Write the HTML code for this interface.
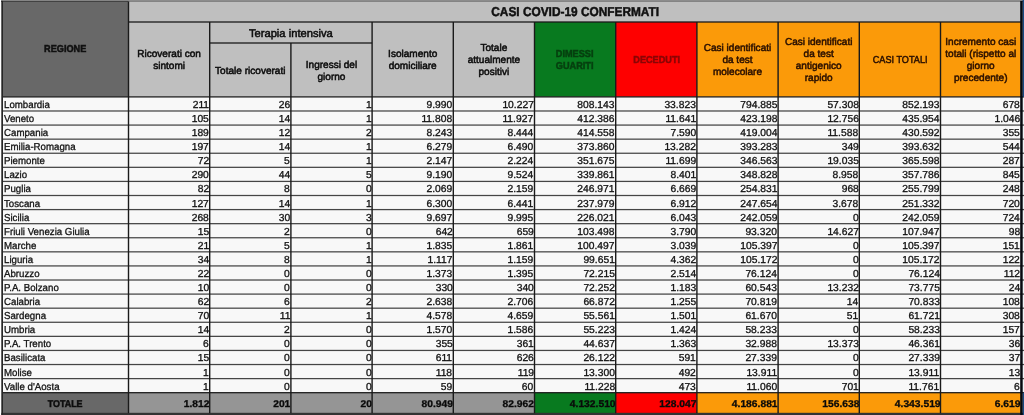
<!DOCTYPE html>
<html><head><meta charset="utf-8"><title>Casi COVID-19</title>
<style>
html,body{margin:0;padding:0;background:#fff;}
body{width:1024px;height:415px;position:relative;overflow:hidden;font-family:"Liberation Sans",sans-serif;color:#0c0c0c;text-rendering:geometricPrecision;}
#top{position:absolute;left:1px;top:-10px;width:1043px;height:11.5px;background:#8e8e8e;}
#lw{position:absolute;left:-10px;top:-10px;width:11.4px;height:440px;background:#fff;}
#rw{position:absolute;left:1022px;top:96px;width:20px;height:298px;background:#f0f4f8;}
#wrap{position:absolute;left:0;top:0;width:1044px;height:435px;filter:blur(0.5px);}
#bg{position:absolute;left:0;top:0;}
#txt{position:absolute;left:0;top:0;width:1044px;height:435px;will-change:transform;}
.c{position:absolute;box-sizing:border-box;display:flex;overflow:hidden;white-space:nowrap;}
#lines{position:absolute;left:0;top:0;}
.h{align-items:center;justify-content:center;text-align:center;font-size:10.05px;line-height:12px;-webkit-text-stroke:0.5px currentColor;}
.h span{position:relative;display:inline-block;transform:translateY(1.9px);}
.h .u{transform:translateY(2.0px) scaleX(0.91);}
.h .rg{transform:translateY(0.8px) scaleX(0.91);color:#101010;}
.h .ut{transform:translateY(-0.3px) scaleX(0.92);}
.b{font-weight:bold;}
.t{font-size:12.9px;color:#111;}
.ti{font-size:11.2px;}
.h.ti span{transform:translateY(0.5px);}
.d{align-items:center;font-size:10.1px;line-height:12px;color:#111;-webkit-text-stroke:0.3px currentColor;}
.n{justify-content:flex-start;padding-left:2px;}
.n span{transform:translateY(1.5px) scaleX(0.96);transform-origin:left center;display:inline-block;}
.v{justify-content:flex-end;padding-right:0.9px;}
.v span{transform:translateY(1.5px) scaleX(1.02);transform-origin:right center;display:inline-block;}
.tot{font-size:9.8px;}
.v.tot{font-size:9.8px;color:#0a0a0a;-webkit-text-stroke:0.3px currentColor;padding-right:0.3px;}
.v.tot span{transform:translateY(1.8px) scaleX(1.05);transform-origin:right center;display:inline-block;}
.gt{color:#063f0f;}
.or{color:#2a1000;}
.rt{color:#8a0505;}
.d span{position:relative;}
</style></head><body>
<div id="wrap">
<div id="top"></div><div id="lw"></div><div id="rw"></div>
<svg id="bg" width="1044" height="435" viewBox="0 0 1044 435">
<rect x="2.00" y="1.50" width="126.50" height="95.40" fill="#686868"/>
<rect x="128.50" y="1.50" width="892.50" height="20.50" fill="#bfbfbf"/>
<rect x="128.50" y="22.00" width="81.20" height="74.90" fill="#bfbfbf"/>
<rect x="209.70" y="22.00" width="162.40" height="21.00" fill="#bfbfbf"/>
<rect x="209.70" y="43.00" width="81.20" height="53.90" fill="#bfbfbf"/>
<rect x="290.90" y="43.00" width="81.20" height="53.90" fill="#bfbfbf"/>
<rect x="372.10" y="22.00" width="81.20" height="74.90" fill="#bfbfbf"/>
<rect x="453.30" y="22.00" width="81.20" height="74.90" fill="#bfbfbf"/>
<rect x="534.50" y="22.00" width="81.20" height="74.90" fill="#087a1f"/>
<rect x="615.70" y="22.00" width="81.20" height="74.90" fill="#fe0000"/>
<rect x="696.90" y="22.00" width="81.20" height="74.90" fill="#fb9a09"/>
<rect x="778.10" y="22.00" width="81.20" height="74.90" fill="#fb9a09"/>
<rect x="859.30" y="22.00" width="81.20" height="74.90" fill="#fb9a09"/>
<rect x="940.50" y="22.00" width="80.50" height="74.90" fill="#fb9a09"/>
<rect x="2.00" y="96.90" width="126.50" height="14.09" fill="#f8f8f8"/>
<rect x="128.50" y="96.90" width="81.20" height="14.09" fill="#f8f8f8"/>
<rect x="209.70" y="96.90" width="81.20" height="14.09" fill="#f8f8f8"/>
<rect x="290.90" y="96.90" width="81.20" height="14.09" fill="#f8f8f8"/>
<rect x="372.10" y="96.90" width="81.20" height="14.09" fill="#f8f8f8"/>
<rect x="453.30" y="96.90" width="81.20" height="14.09" fill="#f8f8f8"/>
<rect x="534.50" y="96.90" width="81.20" height="14.09" fill="#f8f8f8"/>
<rect x="615.70" y="96.90" width="81.20" height="14.09" fill="#f8f8f8"/>
<rect x="696.90" y="96.90" width="81.20" height="14.09" fill="#f8f8f8"/>
<rect x="778.10" y="96.90" width="81.20" height="14.09" fill="#f8f8f8"/>
<rect x="859.30" y="96.90" width="81.20" height="14.09" fill="#f8f8f8"/>
<rect x="940.50" y="96.90" width="80.50" height="14.09" fill="#f8f8f8"/>
<rect x="2.00" y="110.99" width="126.50" height="14.09" fill="#f8f8f8"/>
<rect x="128.50" y="110.99" width="81.20" height="14.09" fill="#f8f8f8"/>
<rect x="209.70" y="110.99" width="81.20" height="14.09" fill="#f8f8f8"/>
<rect x="290.90" y="110.99" width="81.20" height="14.09" fill="#f8f8f8"/>
<rect x="372.10" y="110.99" width="81.20" height="14.09" fill="#f8f8f8"/>
<rect x="453.30" y="110.99" width="81.20" height="14.09" fill="#f8f8f8"/>
<rect x="534.50" y="110.99" width="81.20" height="14.09" fill="#f8f8f8"/>
<rect x="615.70" y="110.99" width="81.20" height="14.09" fill="#f8f8f8"/>
<rect x="696.90" y="110.99" width="81.20" height="14.09" fill="#f8f8f8"/>
<rect x="778.10" y="110.99" width="81.20" height="14.09" fill="#f8f8f8"/>
<rect x="859.30" y="110.99" width="81.20" height="14.09" fill="#f8f8f8"/>
<rect x="940.50" y="110.99" width="80.50" height="14.09" fill="#f8f8f8"/>
<rect x="2.00" y="125.07" width="126.50" height="14.09" fill="#f8f8f8"/>
<rect x="128.50" y="125.07" width="81.20" height="14.09" fill="#f8f8f8"/>
<rect x="209.70" y="125.07" width="81.20" height="14.09" fill="#f8f8f8"/>
<rect x="290.90" y="125.07" width="81.20" height="14.09" fill="#f8f8f8"/>
<rect x="372.10" y="125.07" width="81.20" height="14.09" fill="#f8f8f8"/>
<rect x="453.30" y="125.07" width="81.20" height="14.09" fill="#f8f8f8"/>
<rect x="534.50" y="125.07" width="81.20" height="14.09" fill="#f8f8f8"/>
<rect x="615.70" y="125.07" width="81.20" height="14.09" fill="#f8f8f8"/>
<rect x="696.90" y="125.07" width="81.20" height="14.09" fill="#f8f8f8"/>
<rect x="778.10" y="125.07" width="81.20" height="14.09" fill="#f8f8f8"/>
<rect x="859.30" y="125.07" width="81.20" height="14.09" fill="#f8f8f8"/>
<rect x="940.50" y="125.07" width="80.50" height="14.09" fill="#f8f8f8"/>
<rect x="2.00" y="139.16" width="126.50" height="14.09" fill="#f8f8f8"/>
<rect x="128.50" y="139.16" width="81.20" height="14.09" fill="#f8f8f8"/>
<rect x="209.70" y="139.16" width="81.20" height="14.09" fill="#f8f8f8"/>
<rect x="290.90" y="139.16" width="81.20" height="14.09" fill="#f8f8f8"/>
<rect x="372.10" y="139.16" width="81.20" height="14.09" fill="#f8f8f8"/>
<rect x="453.30" y="139.16" width="81.20" height="14.09" fill="#f8f8f8"/>
<rect x="534.50" y="139.16" width="81.20" height="14.09" fill="#f8f8f8"/>
<rect x="615.70" y="139.16" width="81.20" height="14.09" fill="#f8f8f8"/>
<rect x="696.90" y="139.16" width="81.20" height="14.09" fill="#f8f8f8"/>
<rect x="778.10" y="139.16" width="81.20" height="14.09" fill="#f8f8f8"/>
<rect x="859.30" y="139.16" width="81.20" height="14.09" fill="#f8f8f8"/>
<rect x="940.50" y="139.16" width="80.50" height="14.09" fill="#f8f8f8"/>
<rect x="2.00" y="153.24" width="126.50" height="14.09" fill="#f8f8f8"/>
<rect x="128.50" y="153.24" width="81.20" height="14.09" fill="#f8f8f8"/>
<rect x="209.70" y="153.24" width="81.20" height="14.09" fill="#f8f8f8"/>
<rect x="290.90" y="153.24" width="81.20" height="14.09" fill="#f8f8f8"/>
<rect x="372.10" y="153.24" width="81.20" height="14.09" fill="#f8f8f8"/>
<rect x="453.30" y="153.24" width="81.20" height="14.09" fill="#f8f8f8"/>
<rect x="534.50" y="153.24" width="81.20" height="14.09" fill="#f8f8f8"/>
<rect x="615.70" y="153.24" width="81.20" height="14.09" fill="#f8f8f8"/>
<rect x="696.90" y="153.24" width="81.20" height="14.09" fill="#f8f8f8"/>
<rect x="778.10" y="153.24" width="81.20" height="14.09" fill="#f8f8f8"/>
<rect x="859.30" y="153.24" width="81.20" height="14.09" fill="#f8f8f8"/>
<rect x="940.50" y="153.24" width="80.50" height="14.09" fill="#f8f8f8"/>
<rect x="2.00" y="167.33" width="126.50" height="14.09" fill="#f8f8f8"/>
<rect x="128.50" y="167.33" width="81.20" height="14.09" fill="#f8f8f8"/>
<rect x="209.70" y="167.33" width="81.20" height="14.09" fill="#f8f8f8"/>
<rect x="290.90" y="167.33" width="81.20" height="14.09" fill="#f8f8f8"/>
<rect x="372.10" y="167.33" width="81.20" height="14.09" fill="#f8f8f8"/>
<rect x="453.30" y="167.33" width="81.20" height="14.09" fill="#f8f8f8"/>
<rect x="534.50" y="167.33" width="81.20" height="14.09" fill="#f8f8f8"/>
<rect x="615.70" y="167.33" width="81.20" height="14.09" fill="#f8f8f8"/>
<rect x="696.90" y="167.33" width="81.20" height="14.09" fill="#f8f8f8"/>
<rect x="778.10" y="167.33" width="81.20" height="14.09" fill="#f8f8f8"/>
<rect x="859.30" y="167.33" width="81.20" height="14.09" fill="#f8f8f8"/>
<rect x="940.50" y="167.33" width="80.50" height="14.09" fill="#f8f8f8"/>
<rect x="2.00" y="181.41" width="126.50" height="14.09" fill="#f8f8f8"/>
<rect x="128.50" y="181.41" width="81.20" height="14.09" fill="#f8f8f8"/>
<rect x="209.70" y="181.41" width="81.20" height="14.09" fill="#f8f8f8"/>
<rect x="290.90" y="181.41" width="81.20" height="14.09" fill="#f8f8f8"/>
<rect x="372.10" y="181.41" width="81.20" height="14.09" fill="#f8f8f8"/>
<rect x="453.30" y="181.41" width="81.20" height="14.09" fill="#f8f8f8"/>
<rect x="534.50" y="181.41" width="81.20" height="14.09" fill="#f8f8f8"/>
<rect x="615.70" y="181.41" width="81.20" height="14.09" fill="#f8f8f8"/>
<rect x="696.90" y="181.41" width="81.20" height="14.09" fill="#f8f8f8"/>
<rect x="778.10" y="181.41" width="81.20" height="14.09" fill="#f8f8f8"/>
<rect x="859.30" y="181.41" width="81.20" height="14.09" fill="#f8f8f8"/>
<rect x="940.50" y="181.41" width="80.50" height="14.09" fill="#f8f8f8"/>
<rect x="2.00" y="195.50" width="126.50" height="14.09" fill="#f8f8f8"/>
<rect x="128.50" y="195.50" width="81.20" height="14.09" fill="#f8f8f8"/>
<rect x="209.70" y="195.50" width="81.20" height="14.09" fill="#f8f8f8"/>
<rect x="290.90" y="195.50" width="81.20" height="14.09" fill="#f8f8f8"/>
<rect x="372.10" y="195.50" width="81.20" height="14.09" fill="#f8f8f8"/>
<rect x="453.30" y="195.50" width="81.20" height="14.09" fill="#f8f8f8"/>
<rect x="534.50" y="195.50" width="81.20" height="14.09" fill="#f8f8f8"/>
<rect x="615.70" y="195.50" width="81.20" height="14.09" fill="#f8f8f8"/>
<rect x="696.90" y="195.50" width="81.20" height="14.09" fill="#f8f8f8"/>
<rect x="778.10" y="195.50" width="81.20" height="14.09" fill="#f8f8f8"/>
<rect x="859.30" y="195.50" width="81.20" height="14.09" fill="#f8f8f8"/>
<rect x="940.50" y="195.50" width="80.50" height="14.09" fill="#f8f8f8"/>
<rect x="2.00" y="209.59" width="126.50" height="14.09" fill="#f8f8f8"/>
<rect x="128.50" y="209.59" width="81.20" height="14.09" fill="#f8f8f8"/>
<rect x="209.70" y="209.59" width="81.20" height="14.09" fill="#f8f8f8"/>
<rect x="290.90" y="209.59" width="81.20" height="14.09" fill="#f8f8f8"/>
<rect x="372.10" y="209.59" width="81.20" height="14.09" fill="#f8f8f8"/>
<rect x="453.30" y="209.59" width="81.20" height="14.09" fill="#f8f8f8"/>
<rect x="534.50" y="209.59" width="81.20" height="14.09" fill="#f8f8f8"/>
<rect x="615.70" y="209.59" width="81.20" height="14.09" fill="#f8f8f8"/>
<rect x="696.90" y="209.59" width="81.20" height="14.09" fill="#f8f8f8"/>
<rect x="778.10" y="209.59" width="81.20" height="14.09" fill="#f8f8f8"/>
<rect x="859.30" y="209.59" width="81.20" height="14.09" fill="#f8f8f8"/>
<rect x="940.50" y="209.59" width="80.50" height="14.09" fill="#f8f8f8"/>
<rect x="2.00" y="223.67" width="126.50" height="14.09" fill="#f8f8f8"/>
<rect x="128.50" y="223.67" width="81.20" height="14.09" fill="#f8f8f8"/>
<rect x="209.70" y="223.67" width="81.20" height="14.09" fill="#f8f8f8"/>
<rect x="290.90" y="223.67" width="81.20" height="14.09" fill="#f8f8f8"/>
<rect x="372.10" y="223.67" width="81.20" height="14.09" fill="#f8f8f8"/>
<rect x="453.30" y="223.67" width="81.20" height="14.09" fill="#f8f8f8"/>
<rect x="534.50" y="223.67" width="81.20" height="14.09" fill="#f8f8f8"/>
<rect x="615.70" y="223.67" width="81.20" height="14.09" fill="#f8f8f8"/>
<rect x="696.90" y="223.67" width="81.20" height="14.09" fill="#f8f8f8"/>
<rect x="778.10" y="223.67" width="81.20" height="14.09" fill="#f8f8f8"/>
<rect x="859.30" y="223.67" width="81.20" height="14.09" fill="#f8f8f8"/>
<rect x="940.50" y="223.67" width="80.50" height="14.09" fill="#f8f8f8"/>
<rect x="2.00" y="237.76" width="126.50" height="14.09" fill="#f8f8f8"/>
<rect x="128.50" y="237.76" width="81.20" height="14.09" fill="#f8f8f8"/>
<rect x="209.70" y="237.76" width="81.20" height="14.09" fill="#f8f8f8"/>
<rect x="290.90" y="237.76" width="81.20" height="14.09" fill="#f8f8f8"/>
<rect x="372.10" y="237.76" width="81.20" height="14.09" fill="#f8f8f8"/>
<rect x="453.30" y="237.76" width="81.20" height="14.09" fill="#f8f8f8"/>
<rect x="534.50" y="237.76" width="81.20" height="14.09" fill="#f8f8f8"/>
<rect x="615.70" y="237.76" width="81.20" height="14.09" fill="#f8f8f8"/>
<rect x="696.90" y="237.76" width="81.20" height="14.09" fill="#f8f8f8"/>
<rect x="778.10" y="237.76" width="81.20" height="14.09" fill="#f8f8f8"/>
<rect x="859.30" y="237.76" width="81.20" height="14.09" fill="#f8f8f8"/>
<rect x="940.50" y="237.76" width="80.50" height="14.09" fill="#f8f8f8"/>
<rect x="2.00" y="251.84" width="126.50" height="14.09" fill="#f8f8f8"/>
<rect x="128.50" y="251.84" width="81.20" height="14.09" fill="#f8f8f8"/>
<rect x="209.70" y="251.84" width="81.20" height="14.09" fill="#f8f8f8"/>
<rect x="290.90" y="251.84" width="81.20" height="14.09" fill="#f8f8f8"/>
<rect x="372.10" y="251.84" width="81.20" height="14.09" fill="#f8f8f8"/>
<rect x="453.30" y="251.84" width="81.20" height="14.09" fill="#f8f8f8"/>
<rect x="534.50" y="251.84" width="81.20" height="14.09" fill="#f8f8f8"/>
<rect x="615.70" y="251.84" width="81.20" height="14.09" fill="#f8f8f8"/>
<rect x="696.90" y="251.84" width="81.20" height="14.09" fill="#f8f8f8"/>
<rect x="778.10" y="251.84" width="81.20" height="14.09" fill="#f8f8f8"/>
<rect x="859.30" y="251.84" width="81.20" height="14.09" fill="#f8f8f8"/>
<rect x="940.50" y="251.84" width="80.50" height="14.09" fill="#f8f8f8"/>
<rect x="2.00" y="265.93" width="126.50" height="14.09" fill="#f8f8f8"/>
<rect x="128.50" y="265.93" width="81.20" height="14.09" fill="#f8f8f8"/>
<rect x="209.70" y="265.93" width="81.20" height="14.09" fill="#f8f8f8"/>
<rect x="290.90" y="265.93" width="81.20" height="14.09" fill="#f8f8f8"/>
<rect x="372.10" y="265.93" width="81.20" height="14.09" fill="#f8f8f8"/>
<rect x="453.30" y="265.93" width="81.20" height="14.09" fill="#f8f8f8"/>
<rect x="534.50" y="265.93" width="81.20" height="14.09" fill="#f8f8f8"/>
<rect x="615.70" y="265.93" width="81.20" height="14.09" fill="#f8f8f8"/>
<rect x="696.90" y="265.93" width="81.20" height="14.09" fill="#f8f8f8"/>
<rect x="778.10" y="265.93" width="81.20" height="14.09" fill="#f8f8f8"/>
<rect x="859.30" y="265.93" width="81.20" height="14.09" fill="#f8f8f8"/>
<rect x="940.50" y="265.93" width="80.50" height="14.09" fill="#f8f8f8"/>
<rect x="2.00" y="280.01" width="126.50" height="14.09" fill="#f8f8f8"/>
<rect x="128.50" y="280.01" width="81.20" height="14.09" fill="#f8f8f8"/>
<rect x="209.70" y="280.01" width="81.20" height="14.09" fill="#f8f8f8"/>
<rect x="290.90" y="280.01" width="81.20" height="14.09" fill="#f8f8f8"/>
<rect x="372.10" y="280.01" width="81.20" height="14.09" fill="#f8f8f8"/>
<rect x="453.30" y="280.01" width="81.20" height="14.09" fill="#f8f8f8"/>
<rect x="534.50" y="280.01" width="81.20" height="14.09" fill="#f8f8f8"/>
<rect x="615.70" y="280.01" width="81.20" height="14.09" fill="#f8f8f8"/>
<rect x="696.90" y="280.01" width="81.20" height="14.09" fill="#f8f8f8"/>
<rect x="778.10" y="280.01" width="81.20" height="14.09" fill="#f8f8f8"/>
<rect x="859.30" y="280.01" width="81.20" height="14.09" fill="#f8f8f8"/>
<rect x="940.50" y="280.01" width="80.50" height="14.09" fill="#f8f8f8"/>
<rect x="2.00" y="294.10" width="126.50" height="14.09" fill="#f8f8f8"/>
<rect x="128.50" y="294.10" width="81.20" height="14.09" fill="#f8f8f8"/>
<rect x="209.70" y="294.10" width="81.20" height="14.09" fill="#f8f8f8"/>
<rect x="290.90" y="294.10" width="81.20" height="14.09" fill="#f8f8f8"/>
<rect x="372.10" y="294.10" width="81.20" height="14.09" fill="#f8f8f8"/>
<rect x="453.30" y="294.10" width="81.20" height="14.09" fill="#f8f8f8"/>
<rect x="534.50" y="294.10" width="81.20" height="14.09" fill="#f8f8f8"/>
<rect x="615.70" y="294.10" width="81.20" height="14.09" fill="#f8f8f8"/>
<rect x="696.90" y="294.10" width="81.20" height="14.09" fill="#f8f8f8"/>
<rect x="778.10" y="294.10" width="81.20" height="14.09" fill="#f8f8f8"/>
<rect x="859.30" y="294.10" width="81.20" height="14.09" fill="#f8f8f8"/>
<rect x="940.50" y="294.10" width="80.50" height="14.09" fill="#f8f8f8"/>
<rect x="2.00" y="308.19" width="126.50" height="14.09" fill="#f8f8f8"/>
<rect x="128.50" y="308.19" width="81.20" height="14.09" fill="#f8f8f8"/>
<rect x="209.70" y="308.19" width="81.20" height="14.09" fill="#f8f8f8"/>
<rect x="290.90" y="308.19" width="81.20" height="14.09" fill="#f8f8f8"/>
<rect x="372.10" y="308.19" width="81.20" height="14.09" fill="#f8f8f8"/>
<rect x="453.30" y="308.19" width="81.20" height="14.09" fill="#f8f8f8"/>
<rect x="534.50" y="308.19" width="81.20" height="14.09" fill="#f8f8f8"/>
<rect x="615.70" y="308.19" width="81.20" height="14.09" fill="#f8f8f8"/>
<rect x="696.90" y="308.19" width="81.20" height="14.09" fill="#f8f8f8"/>
<rect x="778.10" y="308.19" width="81.20" height="14.09" fill="#f8f8f8"/>
<rect x="859.30" y="308.19" width="81.20" height="14.09" fill="#f8f8f8"/>
<rect x="940.50" y="308.19" width="80.50" height="14.09" fill="#f8f8f8"/>
<rect x="2.00" y="322.27" width="126.50" height="14.09" fill="#f8f8f8"/>
<rect x="128.50" y="322.27" width="81.20" height="14.09" fill="#f8f8f8"/>
<rect x="209.70" y="322.27" width="81.20" height="14.09" fill="#f8f8f8"/>
<rect x="290.90" y="322.27" width="81.20" height="14.09" fill="#f8f8f8"/>
<rect x="372.10" y="322.27" width="81.20" height="14.09" fill="#f8f8f8"/>
<rect x="453.30" y="322.27" width="81.20" height="14.09" fill="#f8f8f8"/>
<rect x="534.50" y="322.27" width="81.20" height="14.09" fill="#f8f8f8"/>
<rect x="615.70" y="322.27" width="81.20" height="14.09" fill="#f8f8f8"/>
<rect x="696.90" y="322.27" width="81.20" height="14.09" fill="#f8f8f8"/>
<rect x="778.10" y="322.27" width="81.20" height="14.09" fill="#f8f8f8"/>
<rect x="859.30" y="322.27" width="81.20" height="14.09" fill="#f8f8f8"/>
<rect x="940.50" y="322.27" width="80.50" height="14.09" fill="#f8f8f8"/>
<rect x="2.00" y="336.36" width="126.50" height="14.09" fill="#f8f8f8"/>
<rect x="128.50" y="336.36" width="81.20" height="14.09" fill="#f8f8f8"/>
<rect x="209.70" y="336.36" width="81.20" height="14.09" fill="#f8f8f8"/>
<rect x="290.90" y="336.36" width="81.20" height="14.09" fill="#f8f8f8"/>
<rect x="372.10" y="336.36" width="81.20" height="14.09" fill="#f8f8f8"/>
<rect x="453.30" y="336.36" width="81.20" height="14.09" fill="#f8f8f8"/>
<rect x="534.50" y="336.36" width="81.20" height="14.09" fill="#f8f8f8"/>
<rect x="615.70" y="336.36" width="81.20" height="14.09" fill="#f8f8f8"/>
<rect x="696.90" y="336.36" width="81.20" height="14.09" fill="#f8f8f8"/>
<rect x="778.10" y="336.36" width="81.20" height="14.09" fill="#f8f8f8"/>
<rect x="859.30" y="336.36" width="81.20" height="14.09" fill="#f8f8f8"/>
<rect x="940.50" y="336.36" width="80.50" height="14.09" fill="#f8f8f8"/>
<rect x="2.00" y="350.44" width="126.50" height="14.09" fill="#f8f8f8"/>
<rect x="128.50" y="350.44" width="81.20" height="14.09" fill="#f8f8f8"/>
<rect x="209.70" y="350.44" width="81.20" height="14.09" fill="#f8f8f8"/>
<rect x="290.90" y="350.44" width="81.20" height="14.09" fill="#f8f8f8"/>
<rect x="372.10" y="350.44" width="81.20" height="14.09" fill="#f8f8f8"/>
<rect x="453.30" y="350.44" width="81.20" height="14.09" fill="#f8f8f8"/>
<rect x="534.50" y="350.44" width="81.20" height="14.09" fill="#f8f8f8"/>
<rect x="615.70" y="350.44" width="81.20" height="14.09" fill="#f8f8f8"/>
<rect x="696.90" y="350.44" width="81.20" height="14.09" fill="#f8f8f8"/>
<rect x="778.10" y="350.44" width="81.20" height="14.09" fill="#f8f8f8"/>
<rect x="859.30" y="350.44" width="81.20" height="14.09" fill="#f8f8f8"/>
<rect x="940.50" y="350.44" width="80.50" height="14.09" fill="#f8f8f8"/>
<rect x="2.00" y="364.53" width="126.50" height="14.09" fill="#f8f8f8"/>
<rect x="128.50" y="364.53" width="81.20" height="14.09" fill="#f8f8f8"/>
<rect x="209.70" y="364.53" width="81.20" height="14.09" fill="#f8f8f8"/>
<rect x="290.90" y="364.53" width="81.20" height="14.09" fill="#f8f8f8"/>
<rect x="372.10" y="364.53" width="81.20" height="14.09" fill="#f8f8f8"/>
<rect x="453.30" y="364.53" width="81.20" height="14.09" fill="#f8f8f8"/>
<rect x="534.50" y="364.53" width="81.20" height="14.09" fill="#f8f8f8"/>
<rect x="615.70" y="364.53" width="81.20" height="14.09" fill="#f8f8f8"/>
<rect x="696.90" y="364.53" width="81.20" height="14.09" fill="#f8f8f8"/>
<rect x="778.10" y="364.53" width="81.20" height="14.09" fill="#f8f8f8"/>
<rect x="859.30" y="364.53" width="81.20" height="14.09" fill="#f8f8f8"/>
<rect x="940.50" y="364.53" width="80.50" height="14.09" fill="#f8f8f8"/>
<rect x="2.00" y="378.61" width="126.50" height="14.09" fill="#f8f8f8"/>
<rect x="128.50" y="378.61" width="81.20" height="14.09" fill="#f8f8f8"/>
<rect x="209.70" y="378.61" width="81.20" height="14.09" fill="#f8f8f8"/>
<rect x="290.90" y="378.61" width="81.20" height="14.09" fill="#f8f8f8"/>
<rect x="372.10" y="378.61" width="81.20" height="14.09" fill="#f8f8f8"/>
<rect x="453.30" y="378.61" width="81.20" height="14.09" fill="#f8f8f8"/>
<rect x="534.50" y="378.61" width="81.20" height="14.09" fill="#f8f8f8"/>
<rect x="615.70" y="378.61" width="81.20" height="14.09" fill="#f8f8f8"/>
<rect x="696.90" y="378.61" width="81.20" height="14.09" fill="#f8f8f8"/>
<rect x="778.10" y="378.61" width="81.20" height="14.09" fill="#f8f8f8"/>
<rect x="859.30" y="378.61" width="81.20" height="14.09" fill="#f8f8f8"/>
<rect x="940.50" y="378.61" width="80.50" height="14.09" fill="#f8f8f8"/>
<rect x="2.00" y="392.70" width="126.50" height="20.50" fill="#686868"/>
<rect x="128.50" y="392.70" width="81.20" height="20.50" fill="#959595"/>
<rect x="209.70" y="392.70" width="81.20" height="20.50" fill="#959595"/>
<rect x="290.90" y="392.70" width="81.20" height="20.50" fill="#959595"/>
<rect x="372.10" y="392.70" width="81.20" height="20.50" fill="#959595"/>
<rect x="453.30" y="392.70" width="81.20" height="20.50" fill="#959595"/>
<rect x="534.50" y="392.70" width="81.20" height="20.50" fill="#087a1f"/>
<rect x="615.70" y="392.70" width="81.20" height="20.50" fill="#fe0000"/>
<rect x="696.90" y="392.70" width="81.20" height="20.50" fill="#fb9a09"/>
<rect x="778.10" y="392.70" width="81.20" height="20.50" fill="#fb9a09"/>
<rect x="859.30" y="392.70" width="81.20" height="20.50" fill="#fb9a09"/>
<rect x="940.50" y="392.70" width="80.50" height="20.50" fill="#fb9a09"/>
</svg>
<div id="txt">
<div class="c h b" style="left:2.00px;top:1.50px;width:126.50px;height:95.40px;"><span class="u rg">REGIONE</span></div>
<div class="c h b t" style="left:128.50px;top:1.50px;width:892.50px;height:20.50px;"><span class="ut">CASI COVID-19 CONFERMATI</span></div>
<div class="c h" style="left:128.50px;top:22.00px;width:81.20px;height:74.90px;"><span>Ricoverati con<br>sintomi</span></div>
<div class="c h ti" style="left:209.70px;top:22.00px;width:162.40px;height:21.00px;"><span>Terapia intensiva</span></div>
<div class="c h" style="left:209.70px;top:43.00px;width:81.20px;height:53.90px;"><span>Totale ricoverati</span></div>
<div class="c h" style="left:290.90px;top:43.00px;width:81.20px;height:53.90px;"><span>Ingressi del<br>giorno</span></div>
<div class="c h" style="left:372.10px;top:22.00px;width:81.20px;height:74.90px;"><span>Isolamento<br>domiciliare</span></div>
<div class="c h" style="left:453.30px;top:22.00px;width:81.20px;height:74.90px;"><span>Totale<br>attualmente<br>positivi</span></div>
<div class="c h b gt" style="left:534.50px;top:22.00px;width:81.20px;height:74.90px;"><span class="u">DIMESSI<br>GUARITI</span></div>
<div class="c h b rt" style="left:615.70px;top:22.00px;width:81.20px;height:74.90px;"><span class="u">DECEDUTI</span></div>
<div class="c h or" style="left:696.90px;top:22.00px;width:81.20px;height:74.90px;"><span>Casi identificati<br>da test<br>molecolare</span></div>
<div class="c h or" style="left:778.10px;top:22.00px;width:81.20px;height:74.90px;"><span>Casi identificati<br>da test<br>antigenico<br>rapido</span></div>
<div class="c h or" style="left:859.30px;top:22.00px;width:81.20px;height:74.90px;"><span class="u">CASI TOTALI</span></div>
<div class="c h or" style="left:940.50px;top:22.00px;width:80.50px;height:74.90px;"><span>Incremento casi<br>totali (rispetto al<br>giorno<br>precedente)</span></div>
<div class="c d n" style="left:2.00px;top:96.90px;width:126.50px;height:14.09px;"><span>Lombardia</span></div>
<div class="c d v" style="left:128.50px;top:96.90px;width:81.20px;height:14.09px;"><span>211</span></div>
<div class="c d v" style="left:209.70px;top:96.90px;width:81.20px;height:14.09px;"><span>26</span></div>
<div class="c d v" style="left:290.90px;top:96.90px;width:81.20px;height:14.09px;"><span>1</span></div>
<div class="c d v" style="left:372.10px;top:96.90px;width:81.20px;height:14.09px;"><span>9.990</span></div>
<div class="c d v" style="left:453.30px;top:96.90px;width:81.20px;height:14.09px;"><span>10.227</span></div>
<div class="c d v" style="left:534.50px;top:96.90px;width:81.20px;height:14.09px;"><span>808.143</span></div>
<div class="c d v" style="left:615.70px;top:96.90px;width:81.20px;height:14.09px;"><span>33.823</span></div>
<div class="c d v" style="left:696.90px;top:96.90px;width:81.20px;height:14.09px;"><span>794.885</span></div>
<div class="c d v" style="left:778.10px;top:96.90px;width:81.20px;height:14.09px;"><span>57.308</span></div>
<div class="c d v" style="left:859.30px;top:96.90px;width:81.20px;height:14.09px;"><span>852.193</span></div>
<div class="c d v" style="left:940.50px;top:96.90px;width:80.50px;height:14.09px;"><span>678</span></div>
<div class="c d n" style="left:2.00px;top:110.99px;width:126.50px;height:14.09px;"><span>Veneto</span></div>
<div class="c d v" style="left:128.50px;top:110.99px;width:81.20px;height:14.09px;"><span>105</span></div>
<div class="c d v" style="left:209.70px;top:110.99px;width:81.20px;height:14.09px;"><span>14</span></div>
<div class="c d v" style="left:290.90px;top:110.99px;width:81.20px;height:14.09px;"><span>1</span></div>
<div class="c d v" style="left:372.10px;top:110.99px;width:81.20px;height:14.09px;"><span>11.808</span></div>
<div class="c d v" style="left:453.30px;top:110.99px;width:81.20px;height:14.09px;"><span>11.927</span></div>
<div class="c d v" style="left:534.50px;top:110.99px;width:81.20px;height:14.09px;"><span>412.386</span></div>
<div class="c d v" style="left:615.70px;top:110.99px;width:81.20px;height:14.09px;"><span>11.641</span></div>
<div class="c d v" style="left:696.90px;top:110.99px;width:81.20px;height:14.09px;"><span>423.198</span></div>
<div class="c d v" style="left:778.10px;top:110.99px;width:81.20px;height:14.09px;"><span>12.756</span></div>
<div class="c d v" style="left:859.30px;top:110.99px;width:81.20px;height:14.09px;"><span>435.954</span></div>
<div class="c d v" style="left:940.50px;top:110.99px;width:80.50px;height:14.09px;"><span>1.046</span></div>
<div class="c d n" style="left:2.00px;top:125.07px;width:126.50px;height:14.09px;"><span>Campania</span></div>
<div class="c d v" style="left:128.50px;top:125.07px;width:81.20px;height:14.09px;"><span>189</span></div>
<div class="c d v" style="left:209.70px;top:125.07px;width:81.20px;height:14.09px;"><span>12</span></div>
<div class="c d v" style="left:290.90px;top:125.07px;width:81.20px;height:14.09px;"><span>2</span></div>
<div class="c d v" style="left:372.10px;top:125.07px;width:81.20px;height:14.09px;"><span>8.243</span></div>
<div class="c d v" style="left:453.30px;top:125.07px;width:81.20px;height:14.09px;"><span>8.444</span></div>
<div class="c d v" style="left:534.50px;top:125.07px;width:81.20px;height:14.09px;"><span>414.558</span></div>
<div class="c d v" style="left:615.70px;top:125.07px;width:81.20px;height:14.09px;"><span>7.590</span></div>
<div class="c d v" style="left:696.90px;top:125.07px;width:81.20px;height:14.09px;"><span>419.004</span></div>
<div class="c d v" style="left:778.10px;top:125.07px;width:81.20px;height:14.09px;"><span>11.588</span></div>
<div class="c d v" style="left:859.30px;top:125.07px;width:81.20px;height:14.09px;"><span>430.592</span></div>
<div class="c d v" style="left:940.50px;top:125.07px;width:80.50px;height:14.09px;"><span>355</span></div>
<div class="c d n" style="left:2.00px;top:139.16px;width:126.50px;height:14.09px;"><span>Emilia-Romagna</span></div>
<div class="c d v" style="left:128.50px;top:139.16px;width:81.20px;height:14.09px;"><span>197</span></div>
<div class="c d v" style="left:209.70px;top:139.16px;width:81.20px;height:14.09px;"><span>14</span></div>
<div class="c d v" style="left:290.90px;top:139.16px;width:81.20px;height:14.09px;"><span>1</span></div>
<div class="c d v" style="left:372.10px;top:139.16px;width:81.20px;height:14.09px;"><span>6.279</span></div>
<div class="c d v" style="left:453.30px;top:139.16px;width:81.20px;height:14.09px;"><span>6.490</span></div>
<div class="c d v" style="left:534.50px;top:139.16px;width:81.20px;height:14.09px;"><span>373.860</span></div>
<div class="c d v" style="left:615.70px;top:139.16px;width:81.20px;height:14.09px;"><span>13.282</span></div>
<div class="c d v" style="left:696.90px;top:139.16px;width:81.20px;height:14.09px;"><span>393.283</span></div>
<div class="c d v" style="left:778.10px;top:139.16px;width:81.20px;height:14.09px;"><span>349</span></div>
<div class="c d v" style="left:859.30px;top:139.16px;width:81.20px;height:14.09px;"><span>393.632</span></div>
<div class="c d v" style="left:940.50px;top:139.16px;width:80.50px;height:14.09px;"><span>544</span></div>
<div class="c d n" style="left:2.00px;top:153.24px;width:126.50px;height:14.09px;"><span>Piemonte</span></div>
<div class="c d v" style="left:128.50px;top:153.24px;width:81.20px;height:14.09px;"><span>72</span></div>
<div class="c d v" style="left:209.70px;top:153.24px;width:81.20px;height:14.09px;"><span>5</span></div>
<div class="c d v" style="left:290.90px;top:153.24px;width:81.20px;height:14.09px;"><span>1</span></div>
<div class="c d v" style="left:372.10px;top:153.24px;width:81.20px;height:14.09px;"><span>2.147</span></div>
<div class="c d v" style="left:453.30px;top:153.24px;width:81.20px;height:14.09px;"><span>2.224</span></div>
<div class="c d v" style="left:534.50px;top:153.24px;width:81.20px;height:14.09px;"><span>351.675</span></div>
<div class="c d v" style="left:615.70px;top:153.24px;width:81.20px;height:14.09px;"><span>11.699</span></div>
<div class="c d v" style="left:696.90px;top:153.24px;width:81.20px;height:14.09px;"><span>346.563</span></div>
<div class="c d v" style="left:778.10px;top:153.24px;width:81.20px;height:14.09px;"><span>19.035</span></div>
<div class="c d v" style="left:859.30px;top:153.24px;width:81.20px;height:14.09px;"><span>365.598</span></div>
<div class="c d v" style="left:940.50px;top:153.24px;width:80.50px;height:14.09px;"><span>287</span></div>
<div class="c d n" style="left:2.00px;top:167.33px;width:126.50px;height:14.09px;"><span>Lazio</span></div>
<div class="c d v" style="left:128.50px;top:167.33px;width:81.20px;height:14.09px;"><span>290</span></div>
<div class="c d v" style="left:209.70px;top:167.33px;width:81.20px;height:14.09px;"><span>44</span></div>
<div class="c d v" style="left:290.90px;top:167.33px;width:81.20px;height:14.09px;"><span>5</span></div>
<div class="c d v" style="left:372.10px;top:167.33px;width:81.20px;height:14.09px;"><span>9.190</span></div>
<div class="c d v" style="left:453.30px;top:167.33px;width:81.20px;height:14.09px;"><span>9.524</span></div>
<div class="c d v" style="left:534.50px;top:167.33px;width:81.20px;height:14.09px;"><span>339.861</span></div>
<div class="c d v" style="left:615.70px;top:167.33px;width:81.20px;height:14.09px;"><span>8.401</span></div>
<div class="c d v" style="left:696.90px;top:167.33px;width:81.20px;height:14.09px;"><span>348.828</span></div>
<div class="c d v" style="left:778.10px;top:167.33px;width:81.20px;height:14.09px;"><span>8.958</span></div>
<div class="c d v" style="left:859.30px;top:167.33px;width:81.20px;height:14.09px;"><span>357.786</span></div>
<div class="c d v" style="left:940.50px;top:167.33px;width:80.50px;height:14.09px;"><span>845</span></div>
<div class="c d n" style="left:2.00px;top:181.41px;width:126.50px;height:14.09px;"><span>Puglia</span></div>
<div class="c d v" style="left:128.50px;top:181.41px;width:81.20px;height:14.09px;"><span>82</span></div>
<div class="c d v" style="left:209.70px;top:181.41px;width:81.20px;height:14.09px;"><span>8</span></div>
<div class="c d v" style="left:290.90px;top:181.41px;width:81.20px;height:14.09px;"><span>0</span></div>
<div class="c d v" style="left:372.10px;top:181.41px;width:81.20px;height:14.09px;"><span>2.069</span></div>
<div class="c d v" style="left:453.30px;top:181.41px;width:81.20px;height:14.09px;"><span>2.159</span></div>
<div class="c d v" style="left:534.50px;top:181.41px;width:81.20px;height:14.09px;"><span>246.971</span></div>
<div class="c d v" style="left:615.70px;top:181.41px;width:81.20px;height:14.09px;"><span>6.669</span></div>
<div class="c d v" style="left:696.90px;top:181.41px;width:81.20px;height:14.09px;"><span>254.831</span></div>
<div class="c d v" style="left:778.10px;top:181.41px;width:81.20px;height:14.09px;"><span>968</span></div>
<div class="c d v" style="left:859.30px;top:181.41px;width:81.20px;height:14.09px;"><span>255.799</span></div>
<div class="c d v" style="left:940.50px;top:181.41px;width:80.50px;height:14.09px;"><span>248</span></div>
<div class="c d n" style="left:2.00px;top:195.50px;width:126.50px;height:14.09px;"><span>Toscana</span></div>
<div class="c d v" style="left:128.50px;top:195.50px;width:81.20px;height:14.09px;"><span>127</span></div>
<div class="c d v" style="left:209.70px;top:195.50px;width:81.20px;height:14.09px;"><span>14</span></div>
<div class="c d v" style="left:290.90px;top:195.50px;width:81.20px;height:14.09px;"><span>1</span></div>
<div class="c d v" style="left:372.10px;top:195.50px;width:81.20px;height:14.09px;"><span>6.300</span></div>
<div class="c d v" style="left:453.30px;top:195.50px;width:81.20px;height:14.09px;"><span>6.441</span></div>
<div class="c d v" style="left:534.50px;top:195.50px;width:81.20px;height:14.09px;"><span>237.979</span></div>
<div class="c d v" style="left:615.70px;top:195.50px;width:81.20px;height:14.09px;"><span>6.912</span></div>
<div class="c d v" style="left:696.90px;top:195.50px;width:81.20px;height:14.09px;"><span>247.654</span></div>
<div class="c d v" style="left:778.10px;top:195.50px;width:81.20px;height:14.09px;"><span>3.678</span></div>
<div class="c d v" style="left:859.30px;top:195.50px;width:81.20px;height:14.09px;"><span>251.332</span></div>
<div class="c d v" style="left:940.50px;top:195.50px;width:80.50px;height:14.09px;"><span>720</span></div>
<div class="c d n" style="left:2.00px;top:209.59px;width:126.50px;height:14.09px;"><span>Sicilia</span></div>
<div class="c d v" style="left:128.50px;top:209.59px;width:81.20px;height:14.09px;"><span>268</span></div>
<div class="c d v" style="left:209.70px;top:209.59px;width:81.20px;height:14.09px;"><span>30</span></div>
<div class="c d v" style="left:290.90px;top:209.59px;width:81.20px;height:14.09px;"><span>3</span></div>
<div class="c d v" style="left:372.10px;top:209.59px;width:81.20px;height:14.09px;"><span>9.697</span></div>
<div class="c d v" style="left:453.30px;top:209.59px;width:81.20px;height:14.09px;"><span>9.995</span></div>
<div class="c d v" style="left:534.50px;top:209.59px;width:81.20px;height:14.09px;"><span>226.021</span></div>
<div class="c d v" style="left:615.70px;top:209.59px;width:81.20px;height:14.09px;"><span>6.043</span></div>
<div class="c d v" style="left:696.90px;top:209.59px;width:81.20px;height:14.09px;"><span>242.059</span></div>
<div class="c d v" style="left:778.10px;top:209.59px;width:81.20px;height:14.09px;"><span>0</span></div>
<div class="c d v" style="left:859.30px;top:209.59px;width:81.20px;height:14.09px;"><span>242.059</span></div>
<div class="c d v" style="left:940.50px;top:209.59px;width:80.50px;height:14.09px;"><span>724</span></div>
<div class="c d n" style="left:2.00px;top:223.67px;width:126.50px;height:14.09px;"><span>Friuli Venezia Giulia</span></div>
<div class="c d v" style="left:128.50px;top:223.67px;width:81.20px;height:14.09px;"><span>15</span></div>
<div class="c d v" style="left:209.70px;top:223.67px;width:81.20px;height:14.09px;"><span>2</span></div>
<div class="c d v" style="left:290.90px;top:223.67px;width:81.20px;height:14.09px;"><span>0</span></div>
<div class="c d v" style="left:372.10px;top:223.67px;width:81.20px;height:14.09px;"><span>642</span></div>
<div class="c d v" style="left:453.30px;top:223.67px;width:81.20px;height:14.09px;"><span>659</span></div>
<div class="c d v" style="left:534.50px;top:223.67px;width:81.20px;height:14.09px;"><span>103.498</span></div>
<div class="c d v" style="left:615.70px;top:223.67px;width:81.20px;height:14.09px;"><span>3.790</span></div>
<div class="c d v" style="left:696.90px;top:223.67px;width:81.20px;height:14.09px;"><span>93.320</span></div>
<div class="c d v" style="left:778.10px;top:223.67px;width:81.20px;height:14.09px;"><span>14.627</span></div>
<div class="c d v" style="left:859.30px;top:223.67px;width:81.20px;height:14.09px;"><span>107.947</span></div>
<div class="c d v" style="left:940.50px;top:223.67px;width:80.50px;height:14.09px;"><span>98</span></div>
<div class="c d n" style="left:2.00px;top:237.76px;width:126.50px;height:14.09px;"><span>Marche</span></div>
<div class="c d v" style="left:128.50px;top:237.76px;width:81.20px;height:14.09px;"><span>21</span></div>
<div class="c d v" style="left:209.70px;top:237.76px;width:81.20px;height:14.09px;"><span>5</span></div>
<div class="c d v" style="left:290.90px;top:237.76px;width:81.20px;height:14.09px;"><span>1</span></div>
<div class="c d v" style="left:372.10px;top:237.76px;width:81.20px;height:14.09px;"><span>1.835</span></div>
<div class="c d v" style="left:453.30px;top:237.76px;width:81.20px;height:14.09px;"><span>1.861</span></div>
<div class="c d v" style="left:534.50px;top:237.76px;width:81.20px;height:14.09px;"><span>100.497</span></div>
<div class="c d v" style="left:615.70px;top:237.76px;width:81.20px;height:14.09px;"><span>3.039</span></div>
<div class="c d v" style="left:696.90px;top:237.76px;width:81.20px;height:14.09px;"><span>105.397</span></div>
<div class="c d v" style="left:778.10px;top:237.76px;width:81.20px;height:14.09px;"><span>0</span></div>
<div class="c d v" style="left:859.30px;top:237.76px;width:81.20px;height:14.09px;"><span>105.397</span></div>
<div class="c d v" style="left:940.50px;top:237.76px;width:80.50px;height:14.09px;"><span>151</span></div>
<div class="c d n" style="left:2.00px;top:251.84px;width:126.50px;height:14.09px;"><span>Liguria</span></div>
<div class="c d v" style="left:128.50px;top:251.84px;width:81.20px;height:14.09px;"><span>34</span></div>
<div class="c d v" style="left:209.70px;top:251.84px;width:81.20px;height:14.09px;"><span>8</span></div>
<div class="c d v" style="left:290.90px;top:251.84px;width:81.20px;height:14.09px;"><span>1</span></div>
<div class="c d v" style="left:372.10px;top:251.84px;width:81.20px;height:14.09px;"><span>1.117</span></div>
<div class="c d v" style="left:453.30px;top:251.84px;width:81.20px;height:14.09px;"><span>1.159</span></div>
<div class="c d v" style="left:534.50px;top:251.84px;width:81.20px;height:14.09px;"><span>99.651</span></div>
<div class="c d v" style="left:615.70px;top:251.84px;width:81.20px;height:14.09px;"><span>4.362</span></div>
<div class="c d v" style="left:696.90px;top:251.84px;width:81.20px;height:14.09px;"><span>105.172</span></div>
<div class="c d v" style="left:778.10px;top:251.84px;width:81.20px;height:14.09px;"><span>0</span></div>
<div class="c d v" style="left:859.30px;top:251.84px;width:81.20px;height:14.09px;"><span>105.172</span></div>
<div class="c d v" style="left:940.50px;top:251.84px;width:80.50px;height:14.09px;"><span>122</span></div>
<div class="c d n" style="left:2.00px;top:265.93px;width:126.50px;height:14.09px;"><span>Abruzzo</span></div>
<div class="c d v" style="left:128.50px;top:265.93px;width:81.20px;height:14.09px;"><span>22</span></div>
<div class="c d v" style="left:209.70px;top:265.93px;width:81.20px;height:14.09px;"><span>0</span></div>
<div class="c d v" style="left:290.90px;top:265.93px;width:81.20px;height:14.09px;"><span>0</span></div>
<div class="c d v" style="left:372.10px;top:265.93px;width:81.20px;height:14.09px;"><span>1.373</span></div>
<div class="c d v" style="left:453.30px;top:265.93px;width:81.20px;height:14.09px;"><span>1.395</span></div>
<div class="c d v" style="left:534.50px;top:265.93px;width:81.20px;height:14.09px;"><span>72.215</span></div>
<div class="c d v" style="left:615.70px;top:265.93px;width:81.20px;height:14.09px;"><span>2.514</span></div>
<div class="c d v" style="left:696.90px;top:265.93px;width:81.20px;height:14.09px;"><span>76.124</span></div>
<div class="c d v" style="left:778.10px;top:265.93px;width:81.20px;height:14.09px;"><span>0</span></div>
<div class="c d v" style="left:859.30px;top:265.93px;width:81.20px;height:14.09px;"><span>76.124</span></div>
<div class="c d v" style="left:940.50px;top:265.93px;width:80.50px;height:14.09px;"><span>112</span></div>
<div class="c d n" style="left:2.00px;top:280.01px;width:126.50px;height:14.09px;"><span>P.A. Bolzano</span></div>
<div class="c d v" style="left:128.50px;top:280.01px;width:81.20px;height:14.09px;"><span>10</span></div>
<div class="c d v" style="left:209.70px;top:280.01px;width:81.20px;height:14.09px;"><span>0</span></div>
<div class="c d v" style="left:290.90px;top:280.01px;width:81.20px;height:14.09px;"><span>0</span></div>
<div class="c d v" style="left:372.10px;top:280.01px;width:81.20px;height:14.09px;"><span>330</span></div>
<div class="c d v" style="left:453.30px;top:280.01px;width:81.20px;height:14.09px;"><span>340</span></div>
<div class="c d v" style="left:534.50px;top:280.01px;width:81.20px;height:14.09px;"><span>72.252</span></div>
<div class="c d v" style="left:615.70px;top:280.01px;width:81.20px;height:14.09px;"><span>1.183</span></div>
<div class="c d v" style="left:696.90px;top:280.01px;width:81.20px;height:14.09px;"><span>60.543</span></div>
<div class="c d v" style="left:778.10px;top:280.01px;width:81.20px;height:14.09px;"><span>13.232</span></div>
<div class="c d v" style="left:859.30px;top:280.01px;width:81.20px;height:14.09px;"><span>73.775</span></div>
<div class="c d v" style="left:940.50px;top:280.01px;width:80.50px;height:14.09px;"><span>24</span></div>
<div class="c d n" style="left:2.00px;top:294.10px;width:126.50px;height:14.09px;"><span>Calabria</span></div>
<div class="c d v" style="left:128.50px;top:294.10px;width:81.20px;height:14.09px;"><span>62</span></div>
<div class="c d v" style="left:209.70px;top:294.10px;width:81.20px;height:14.09px;"><span>6</span></div>
<div class="c d v" style="left:290.90px;top:294.10px;width:81.20px;height:14.09px;"><span>2</span></div>
<div class="c d v" style="left:372.10px;top:294.10px;width:81.20px;height:14.09px;"><span>2.638</span></div>
<div class="c d v" style="left:453.30px;top:294.10px;width:81.20px;height:14.09px;"><span>2.706</span></div>
<div class="c d v" style="left:534.50px;top:294.10px;width:81.20px;height:14.09px;"><span>66.872</span></div>
<div class="c d v" style="left:615.70px;top:294.10px;width:81.20px;height:14.09px;"><span>1.255</span></div>
<div class="c d v" style="left:696.90px;top:294.10px;width:81.20px;height:14.09px;"><span>70.819</span></div>
<div class="c d v" style="left:778.10px;top:294.10px;width:81.20px;height:14.09px;"><span>14</span></div>
<div class="c d v" style="left:859.30px;top:294.10px;width:81.20px;height:14.09px;"><span>70.833</span></div>
<div class="c d v" style="left:940.50px;top:294.10px;width:80.50px;height:14.09px;"><span>108</span></div>
<div class="c d n" style="left:2.00px;top:308.19px;width:126.50px;height:14.09px;"><span>Sardegna</span></div>
<div class="c d v" style="left:128.50px;top:308.19px;width:81.20px;height:14.09px;"><span>70</span></div>
<div class="c d v" style="left:209.70px;top:308.19px;width:81.20px;height:14.09px;"><span>11</span></div>
<div class="c d v" style="left:290.90px;top:308.19px;width:81.20px;height:14.09px;"><span>1</span></div>
<div class="c d v" style="left:372.10px;top:308.19px;width:81.20px;height:14.09px;"><span>4.578</span></div>
<div class="c d v" style="left:453.30px;top:308.19px;width:81.20px;height:14.09px;"><span>4.659</span></div>
<div class="c d v" style="left:534.50px;top:308.19px;width:81.20px;height:14.09px;"><span>55.561</span></div>
<div class="c d v" style="left:615.70px;top:308.19px;width:81.20px;height:14.09px;"><span>1.501</span></div>
<div class="c d v" style="left:696.90px;top:308.19px;width:81.20px;height:14.09px;"><span>61.670</span></div>
<div class="c d v" style="left:778.10px;top:308.19px;width:81.20px;height:14.09px;"><span>51</span></div>
<div class="c d v" style="left:859.30px;top:308.19px;width:81.20px;height:14.09px;"><span>61.721</span></div>
<div class="c d v" style="left:940.50px;top:308.19px;width:80.50px;height:14.09px;"><span>308</span></div>
<div class="c d n" style="left:2.00px;top:322.27px;width:126.50px;height:14.09px;"><span>Umbria</span></div>
<div class="c d v" style="left:128.50px;top:322.27px;width:81.20px;height:14.09px;"><span>14</span></div>
<div class="c d v" style="left:209.70px;top:322.27px;width:81.20px;height:14.09px;"><span>2</span></div>
<div class="c d v" style="left:290.90px;top:322.27px;width:81.20px;height:14.09px;"><span>0</span></div>
<div class="c d v" style="left:372.10px;top:322.27px;width:81.20px;height:14.09px;"><span>1.570</span></div>
<div class="c d v" style="left:453.30px;top:322.27px;width:81.20px;height:14.09px;"><span>1.586</span></div>
<div class="c d v" style="left:534.50px;top:322.27px;width:81.20px;height:14.09px;"><span>55.223</span></div>
<div class="c d v" style="left:615.70px;top:322.27px;width:81.20px;height:14.09px;"><span>1.424</span></div>
<div class="c d v" style="left:696.90px;top:322.27px;width:81.20px;height:14.09px;"><span>58.233</span></div>
<div class="c d v" style="left:778.10px;top:322.27px;width:81.20px;height:14.09px;"><span>0</span></div>
<div class="c d v" style="left:859.30px;top:322.27px;width:81.20px;height:14.09px;"><span>58.233</span></div>
<div class="c d v" style="left:940.50px;top:322.27px;width:80.50px;height:14.09px;"><span>157</span></div>
<div class="c d n" style="left:2.00px;top:336.36px;width:126.50px;height:14.09px;"><span>P.A. Trento</span></div>
<div class="c d v" style="left:128.50px;top:336.36px;width:81.20px;height:14.09px;"><span>6</span></div>
<div class="c d v" style="left:209.70px;top:336.36px;width:81.20px;height:14.09px;"><span>0</span></div>
<div class="c d v" style="left:290.90px;top:336.36px;width:81.20px;height:14.09px;"><span>0</span></div>
<div class="c d v" style="left:372.10px;top:336.36px;width:81.20px;height:14.09px;"><span>355</span></div>
<div class="c d v" style="left:453.30px;top:336.36px;width:81.20px;height:14.09px;"><span>361</span></div>
<div class="c d v" style="left:534.50px;top:336.36px;width:81.20px;height:14.09px;"><span>44.637</span></div>
<div class="c d v" style="left:615.70px;top:336.36px;width:81.20px;height:14.09px;"><span>1.363</span></div>
<div class="c d v" style="left:696.90px;top:336.36px;width:81.20px;height:14.09px;"><span>32.988</span></div>
<div class="c d v" style="left:778.10px;top:336.36px;width:81.20px;height:14.09px;"><span>13.373</span></div>
<div class="c d v" style="left:859.30px;top:336.36px;width:81.20px;height:14.09px;"><span>46.361</span></div>
<div class="c d v" style="left:940.50px;top:336.36px;width:80.50px;height:14.09px;"><span>36</span></div>
<div class="c d n" style="left:2.00px;top:350.44px;width:126.50px;height:14.09px;"><span>Basilicata</span></div>
<div class="c d v" style="left:128.50px;top:350.44px;width:81.20px;height:14.09px;"><span>15</span></div>
<div class="c d v" style="left:209.70px;top:350.44px;width:81.20px;height:14.09px;"><span>0</span></div>
<div class="c d v" style="left:290.90px;top:350.44px;width:81.20px;height:14.09px;"><span>0</span></div>
<div class="c d v" style="left:372.10px;top:350.44px;width:81.20px;height:14.09px;"><span>611</span></div>
<div class="c d v" style="left:453.30px;top:350.44px;width:81.20px;height:14.09px;"><span>626</span></div>
<div class="c d v" style="left:534.50px;top:350.44px;width:81.20px;height:14.09px;"><span>26.122</span></div>
<div class="c d v" style="left:615.70px;top:350.44px;width:81.20px;height:14.09px;"><span>591</span></div>
<div class="c d v" style="left:696.90px;top:350.44px;width:81.20px;height:14.09px;"><span>27.339</span></div>
<div class="c d v" style="left:778.10px;top:350.44px;width:81.20px;height:14.09px;"><span>0</span></div>
<div class="c d v" style="left:859.30px;top:350.44px;width:81.20px;height:14.09px;"><span>27.339</span></div>
<div class="c d v" style="left:940.50px;top:350.44px;width:80.50px;height:14.09px;"><span>37</span></div>
<div class="c d n" style="left:2.00px;top:364.53px;width:126.50px;height:14.09px;"><span>Molise</span></div>
<div class="c d v" style="left:128.50px;top:364.53px;width:81.20px;height:14.09px;"><span>1</span></div>
<div class="c d v" style="left:209.70px;top:364.53px;width:81.20px;height:14.09px;"><span>0</span></div>
<div class="c d v" style="left:290.90px;top:364.53px;width:81.20px;height:14.09px;"><span>0</span></div>
<div class="c d v" style="left:372.10px;top:364.53px;width:81.20px;height:14.09px;"><span>118</span></div>
<div class="c d v" style="left:453.30px;top:364.53px;width:81.20px;height:14.09px;"><span>119</span></div>
<div class="c d v" style="left:534.50px;top:364.53px;width:81.20px;height:14.09px;"><span>13.300</span></div>
<div class="c d v" style="left:615.70px;top:364.53px;width:81.20px;height:14.09px;"><span>492</span></div>
<div class="c d v" style="left:696.90px;top:364.53px;width:81.20px;height:14.09px;"><span>13.911</span></div>
<div class="c d v" style="left:778.10px;top:364.53px;width:81.20px;height:14.09px;"><span>0</span></div>
<div class="c d v" style="left:859.30px;top:364.53px;width:81.20px;height:14.09px;"><span>13.911</span></div>
<div class="c d v" style="left:940.50px;top:364.53px;width:80.50px;height:14.09px;"><span>13</span></div>
<div class="c d n" style="left:2.00px;top:378.61px;width:126.50px;height:14.09px;"><span>Valle d'Aosta</span></div>
<div class="c d v" style="left:128.50px;top:378.61px;width:81.20px;height:14.09px;"><span>1</span></div>
<div class="c d v" style="left:209.70px;top:378.61px;width:81.20px;height:14.09px;"><span>0</span></div>
<div class="c d v" style="left:290.90px;top:378.61px;width:81.20px;height:14.09px;"><span>0</span></div>
<div class="c d v" style="left:372.10px;top:378.61px;width:81.20px;height:14.09px;"><span>59</span></div>
<div class="c d v" style="left:453.30px;top:378.61px;width:81.20px;height:14.09px;"><span>60</span></div>
<div class="c d v" style="left:534.50px;top:378.61px;width:81.20px;height:14.09px;"><span>11.228</span></div>
<div class="c d v" style="left:615.70px;top:378.61px;width:81.20px;height:14.09px;"><span>473</span></div>
<div class="c d v" style="left:696.90px;top:378.61px;width:81.20px;height:14.09px;"><span>11.060</span></div>
<div class="c d v" style="left:778.10px;top:378.61px;width:81.20px;height:14.09px;"><span>701</span></div>
<div class="c d v" style="left:859.30px;top:378.61px;width:81.20px;height:14.09px;"><span>11.761</span></div>
<div class="c d v" style="left:940.50px;top:378.61px;width:80.50px;height:14.09px;"><span>6</span></div>
<div class="c h b tot" style="left:2.00px;top:392.70px;width:126.50px;height:20.50px;"><span class="u">TOTALE</span></div>
<div class="c d v b tot" style="left:128.50px;top:392.70px;width:81.20px;height:20.50px;"><span>1.812</span></div>
<div class="c d v b tot" style="left:209.70px;top:392.70px;width:81.20px;height:20.50px;"><span>201</span></div>
<div class="c d v b tot" style="left:290.90px;top:392.70px;width:81.20px;height:20.50px;"><span>20</span></div>
<div class="c d v b tot" style="left:372.10px;top:392.70px;width:81.20px;height:20.50px;"><span>80.949</span></div>
<div class="c d v b tot" style="left:453.30px;top:392.70px;width:81.20px;height:20.50px;"><span>82.962</span></div>
<div class="c d v b tot gt" style="left:534.50px;top:392.70px;width:81.20px;height:20.50px;"><span>4.132.510</span></div>
<div class="c d v b tot rt" style="left:615.70px;top:392.70px;width:81.20px;height:20.50px;"><span>128.047</span></div>
<div class="c d v b tot" style="left:696.90px;top:392.70px;width:81.20px;height:20.50px;"><span>4.186.881</span></div>
<div class="c d v b tot" style="left:778.10px;top:392.70px;width:81.20px;height:20.50px;"><span>156.638</span></div>
<div class="c d v b tot" style="left:859.30px;top:392.70px;width:81.20px;height:20.50px;"><span>4.343.519</span></div>
<div class="c d v b tot" style="left:940.50px;top:392.70px;width:80.50px;height:20.50px;"><span>6.619</span></div>
</div>
<svg id="lines" width="1044" height="435" viewBox="0 0 1044 435">
<rect x="1.3" y="0.9" width="127.2" height="1.0" fill="#3c3c3c"/>
<rect x="128.5" y="0.9" width="893" height="0.9" fill="#7c7c7c"/>
<rect x="128.50" y="21.35" width="892.50" height="1.3" fill="#1a1a1a"/>
<rect x="209.70" y="42.35" width="162.40" height="1.3" fill="#1a1a1a"/>
<rect x="2.00" y="96.28" width="1032.00" height="1.25" fill="#1a1a1a"/>
<rect x="2.00" y="110.36" width="1032.00" height="1.25" fill="#454545"/>
<rect x="2.00" y="124.45" width="1032.00" height="1.25" fill="#454545"/>
<rect x="2.00" y="138.53" width="1032.00" height="1.25" fill="#454545"/>
<rect x="2.00" y="152.62" width="1032.00" height="1.25" fill="#454545"/>
<rect x="2.00" y="166.70" width="1032.00" height="1.25" fill="#454545"/>
<rect x="2.00" y="180.79" width="1032.00" height="1.25" fill="#454545"/>
<rect x="2.00" y="194.88" width="1032.00" height="1.25" fill="#454545"/>
<rect x="2.00" y="208.96" width="1032.00" height="1.25" fill="#454545"/>
<rect x="2.00" y="223.05" width="1032.00" height="1.25" fill="#454545"/>
<rect x="2.00" y="237.13" width="1032.00" height="1.25" fill="#454545"/>
<rect x="2.00" y="251.22" width="1032.00" height="1.25" fill="#454545"/>
<rect x="2.00" y="265.30" width="1032.00" height="1.25" fill="#454545"/>
<rect x="2.00" y="279.39" width="1032.00" height="1.25" fill="#454545"/>
<rect x="2.00" y="293.47" width="1032.00" height="1.25" fill="#454545"/>
<rect x="2.00" y="307.56" width="1032.00" height="1.25" fill="#454545"/>
<rect x="2.00" y="321.65" width="1032.00" height="1.25" fill="#454545"/>
<rect x="2.00" y="335.73" width="1032.00" height="1.25" fill="#454545"/>
<rect x="2.00" y="349.82" width="1032.00" height="1.25" fill="#454545"/>
<rect x="2.00" y="363.90" width="1032.00" height="1.25" fill="#454545"/>
<rect x="2.00" y="377.99" width="1032.00" height="1.25" fill="#454545"/>
<rect x="2.00" y="392.07" width="1032.00" height="1.25" fill="#1a1a1a"/>
<rect x="1.3" y="412.8" width="1032.7" height="12.2" fill="#333333"/>
<rect x="1.3" y="0.9" width="1.7" height="424.1" fill="#262626"/>
<rect x="127.80" y="1.50" width="1.4" height="411.70" fill="#1a1a1a"/>
<rect x="209.00" y="22.00" width="1.4" height="391.20" fill="#1a1a1a"/>
<rect x="371.40" y="22.00" width="1.4" height="391.20" fill="#1a1a1a"/>
<rect x="452.60" y="22.00" width="1.4" height="391.20" fill="#1a1a1a"/>
<rect x="533.80" y="22.00" width="1.4" height="391.20" fill="#1a1a1a"/>
<rect x="615.00" y="22.00" width="1.4" height="391.20" fill="#1a1a1a"/>
<rect x="696.20" y="22.00" width="1.4" height="391.20" fill="#1a1a1a"/>
<rect x="777.40" y="22.00" width="1.4" height="391.20" fill="#1a1a1a"/>
<rect x="858.60" y="22.00" width="1.4" height="391.20" fill="#1a1a1a"/>
<rect x="939.80" y="22.00" width="1.4" height="391.20" fill="#1a1a1a"/>
<rect x="290.20" y="43.00" width="1.4" height="370.20" fill="#1a1a1a"/>
<rect x="1022.5" y="-10" width="11.5" height="107" fill="#1a4a82"/>
<rect x="1022.5" y="392.7" width="11.5" height="32.3" fill="#1a4a82"/>
<rect x="1020.2" y="0.9" width="2.5" height="424.1" fill="#05080f"/>
</svg>
</div>
</body></html>
